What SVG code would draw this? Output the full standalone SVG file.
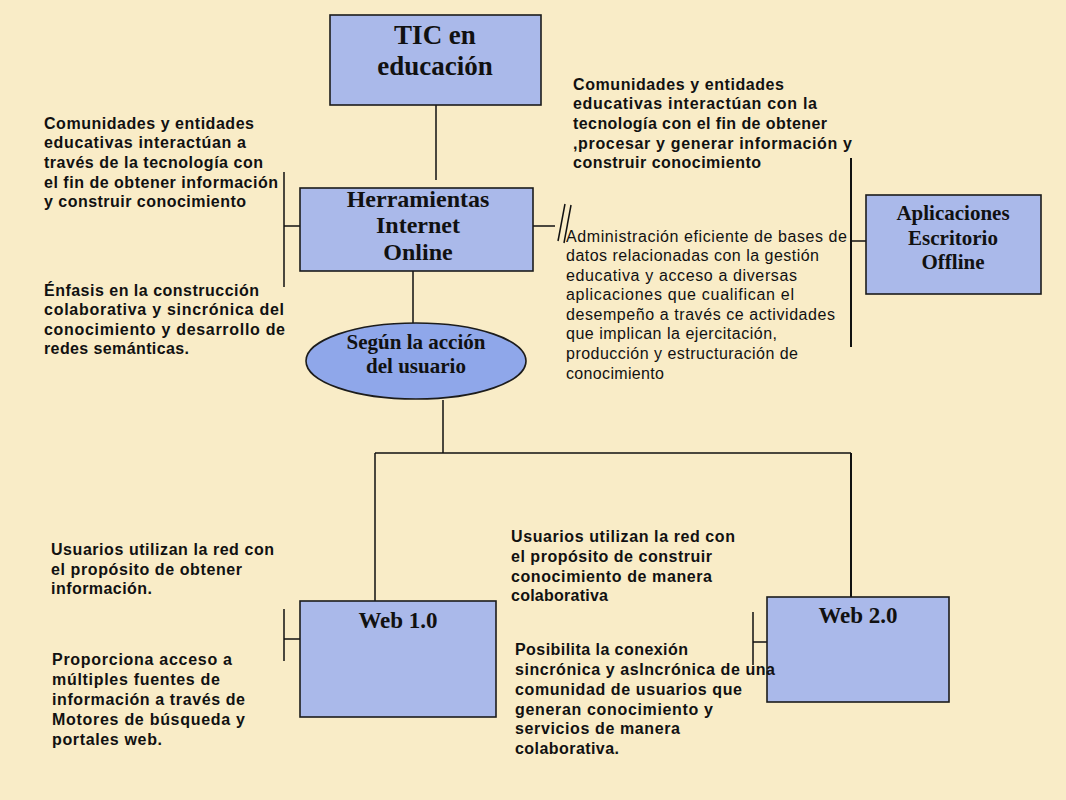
<svg xmlns="http://www.w3.org/2000/svg" width="1066" height="800" viewBox="0 0 1066 800">
<style>
.bg{fill:#f9ecc7}
.box{fill:#aab9ea;stroke:#1c1c1c;stroke-width:1.6}
.ell{fill:#8fa7ea;stroke:#1c1c1c;stroke-width:1.6}
.ln{stroke:#111;stroke-width:1.5;fill:none}
.lnb{stroke:#111;stroke-width:2;fill:none}
.h{font-family:"Liberation Serif","Times New Roman",serif;font-weight:bold;fill:#111;text-anchor:middle}
.t{font-family:"Liberation Sans",Arial,sans-serif;font-weight:bold;font-size:16px;fill:#111}
.r{font-family:"Liberation Sans",Arial,sans-serif;font-weight:normal;font-size:16px;fill:#111}
</style>
<rect class="bg" x="0" y="0" width="1066" height="800"/>

<g id="connectors">
<line class="ln" x1="436" y1="105" x2="436" y2="180"/>
<line class="ln" x1="284" y1="172" x2="284" y2="287"/>
<line class="ln" x1="284" y1="226" x2="300" y2="226"/>
<line class="ln" x1="533" y1="226" x2="555" y2="226"/>
<line class="ln" x1="565" y1="204" x2="558" y2="241"/>
<line class="ln" x1="571" y1="205" x2="564" y2="243"/>
<line class="lnb" x1="851" y1="158" x2="851" y2="347"/>
<line class="ln" x1="851" y1="241" x2="866" y2="241"/>
<line class="ln" x1="413" y1="271" x2="413" y2="323"/>
<line class="ln" x1="443" y1="400" x2="443" y2="453"/>
<line class="ln" x1="375" y1="453" x2="851" y2="453"/>
<line class="ln" x1="375" y1="453" x2="375" y2="601"/>
<line class="lnb" x1="851" y1="453" x2="851" y2="597"/>
<line class="ln" x1="284" y1="609" x2="284" y2="661"/>
<line class="ln" x1="284" y1="639" x2="300" y2="639"/>
<line class="ln" x1="753" y1="612" x2="753" y2="665"/>
<line class="ln" x1="753" y1="642" x2="767" y2="642"/>
</g>

<g id="tic">
<rect class="box" x="330" y="15" width="211" height="90"/>
<text class="h" font-size="27" x="435" y="44">TIC en</text>
<text class="h" font-size="27" x="435" y="75">educación</text>
</g>

<g id="herramientas">
<rect class="box" x="300" y="188" width="233" height="83"/>
<text class="h" font-size="24" x="418" y="207">Herramientas</text>
<text class="h" font-size="24" x="418" y="233">Internet</text>
<text class="h" font-size="24" x="418" y="260">Online</text>
</g>

<g id="aplicaciones">
<rect class="box" x="866" y="195" width="175" height="99"/>
<text class="h" font-size="21" x="953" y="220">Aplicaciones</text>
<text class="h" font-size="21" x="953" y="245">Escritorio</text>
<text class="h" font-size="21" x="953" y="269">Offline</text>
</g>

<g id="segun">
<ellipse class="ell" cx="416" cy="361" rx="110" ry="38"/>
<text class="h" font-size="21" x="416" y="349">Según la acción</text>
<text class="h" font-size="21" x="416" y="373">del usuario</text>
</g>

<g id="web1">
<rect class="box" x="300" y="601" width="196" height="116"/>
<text class="h" font-size="23" x="398" y="628">Web 1.0</text>
</g>

<g id="web2">
<rect class="box" x="767" y="597" width="182" height="105"/>
<text class="h" font-size="23" x="858" y="623">Web 2.0</text>
</g>

<g id="text-comunidades-left">
<text class="t" x="44" y="129" textLength="210" lengthAdjust="spacing">Comunidades y entidades</text>
<text class="t" x="44" y="148" textLength="202" lengthAdjust="spacing">educativas interactúan a</text>
<text class="t" x="44" y="168" textLength="219" lengthAdjust="spacing">través de la tecnología con</text>
<text class="t" x="44" y="188" textLength="234" lengthAdjust="spacing">el fin de obtener información</text>
<text class="t" x="44" y="207" textLength="202" lengthAdjust="spacing">y construir conocimiento</text>
</g>

<g id="text-enfasis">
<text class="t" x="44" y="296" textLength="215" lengthAdjust="spacing">Énfasis en la construcción</text>
<text class="t" x="44" y="315" textLength="240" lengthAdjust="spacing">colaborativa y sincrónica del</text>
<text class="t" x="44" y="335" textLength="241" lengthAdjust="spacing">conocimiento y desarrollo de</text>
<text class="t" x="44" y="354" textLength="145" lengthAdjust="spacing">redes semánticas.</text>
</g>

<g id="text-comunidades-right">
<text class="t" x="573" y="90" textLength="211" lengthAdjust="spacing">Comunidades y entidades</text>
<text class="t" x="573" y="109" textLength="244" lengthAdjust="spacing">educativas interactúan con la</text>
<text class="t" x="573" y="129" textLength="254" lengthAdjust="spacing">tecnología con el fin de obtener</text>
<text class="t" x="573" y="149" textLength="279" lengthAdjust="spacing">,procesar y generar información y</text>
<text class="t" x="573" y="168" textLength="188" lengthAdjust="spacing">construir conocimiento</text>
</g>

<g id="text-administracion">
<text class="r" x="566" y="242" textLength="281" lengthAdjust="spacing">Administración eficiente de bases de</text>
<text class="r" x="566" y="261" textLength="253" lengthAdjust="spacing">datos relacionadas con la gestión</text>
<text class="r" x="566" y="281" textLength="231" lengthAdjust="spacing">educativa y acceso a diversas</text>
<text class="r" x="566" y="300" textLength="228" lengthAdjust="spacing">aplicaciones que cualifican el</text>
<text class="r" x="566" y="320" textLength="269" lengthAdjust="spacing">desempeño a través ce actividades</text>
<text class="r" x="566" y="339" textLength="211" lengthAdjust="spacing">que implican la ejercitación,</text>
<text class="r" x="566" y="359" textLength="232" lengthAdjust="spacing">producción y estructuración de</text>
<text class="r" x="566" y="379" textLength="98" lengthAdjust="spacing">conocimiento</text>
</g>

<g id="text-usuarios-web1">
<text class="t" x="51" y="555" textLength="223" lengthAdjust="spacing">Usuarios utilizan la red con</text>
<text class="t" x="51" y="575" textLength="191" lengthAdjust="spacing">el propósito de obtener</text>
<text class="t" x="51" y="594" textLength="101" lengthAdjust="spacing">información.</text>
</g>

<g id="text-proporciona">
<text class="t" x="52" y="665" textLength="180" lengthAdjust="spacing">Proporciona acceso a</text>
<text class="t" x="52" y="685" textLength="168" lengthAdjust="spacing">múltiples fuentes de</text>
<text class="t" x="52" y="705" textLength="193" lengthAdjust="spacing">información a través de</text>
<text class="t" x="52" y="725" textLength="193" lengthAdjust="spacing">Motores de búsqueda y</text>
<text class="t" x="52" y="745" textLength="110" lengthAdjust="spacing">portales web.</text>
</g>

<g id="text-usuarios-web2">
<text class="t" x="511" y="542" textLength="224" lengthAdjust="spacing">Usuarios utilizan la red con</text>
<text class="t" x="511" y="562" textLength="201" lengthAdjust="spacing">el propósito de construir</text>
<text class="t" x="511" y="582" textLength="201" lengthAdjust="spacing">conocimiento de manera</text>
<text class="t" x="511" y="601" textLength="97" lengthAdjust="spacing">colaborativa</text>
</g>

<g id="text-posibilita">
<text class="t" x="515" y="655" textLength="173" lengthAdjust="spacing">Posibilita la conexión</text>
<text class="t" x="515" y="675" textLength="260" lengthAdjust="spacing">sincrónica y asIncrónica de una</text>
<text class="t" x="515" y="695" textLength="227" lengthAdjust="spacing">comunidad de usuarios que</text>
<text class="t" x="515" y="715" textLength="198" lengthAdjust="spacing">generan conocimiento y</text>
<text class="t" x="515" y="734" textLength="165" lengthAdjust="spacing">servicios de manera</text>
<text class="t" x="515" y="754" textLength="104" lengthAdjust="spacing">colaborativa.</text>
</g>
</svg>
